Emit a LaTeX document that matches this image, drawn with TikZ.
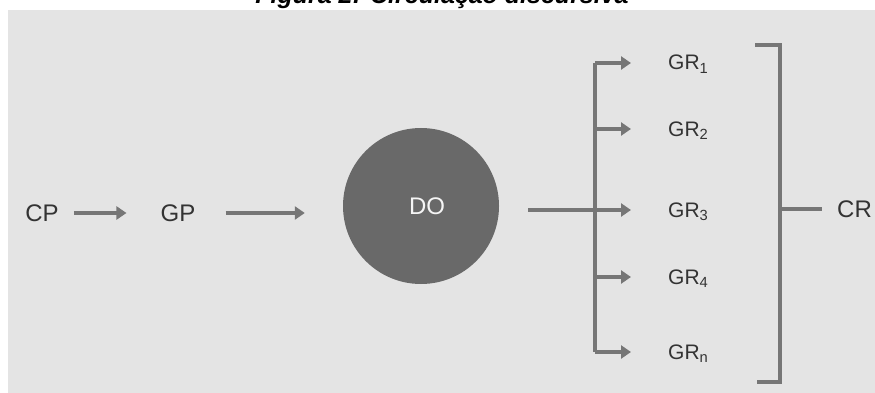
\documentclass[tikz,border=0pt]{standalone}
\usepackage{fontspec}
\setmainfont{Liberation Sans}
\usetikzlibrary{arrows.meta,positioning}
\definecolor{scan}{HTML}{E4E4E4}
\definecolor{ink}{HTML}{767676}
\definecolor{txt}{HTML}{333333}
\definecolor{dogray}{HTML}{696969}
\tikzset{
  lbl/.style={inner sep=0pt, text=txt, font=\fontsize{24}{28}\selectfont},
  grl/.style={inner sep=0pt, text=txt, font=\fontsize{21}{25}\selectfont, anchor=base west},
  wire/.style={draw=ink, line width=3.8pt, line join=miter},
  arr/.style={wire, -{Triangle[length=10pt,width=13pt]}},
}
\begin{document}
\begin{tikzpicture}[x=1pt,y=-1pt]
\useasboundingbox (0,0) rectangle (875,393);
\fill[white] (0,0) rectangle (875,393);
\fill[scan] (8,10) rectangle (875,393);
\node[inner sep=0pt, anchor=base, font=\bfseries\itshape\fontsize{25}{30}\selectfont] (title) at (442,4) {Figura 2: Circulação discursiva};

\node[lbl] (CP) at (42,213) {CP};
\node[lbl] (GP) at (178,213) {GP};
\node[circle, fill=dogray, minimum size=156pt, inner sep=0pt, text=gray!8, font=\fontsize{24}{28}\selectfont] (DO) at (421,206) {\hspace{12pt}DO};

\coordinate (b1) at (595,63);
\coordinate (b2) at (595,129);
\coordinate (b3) at (595,210);
\coordinate (b4) at (595,277);
\coordinate (bn) at (595,352);
\coordinate (t1) at (631,63);
\coordinate (t2) at (631,129);
\coordinate (t3) at (631,210);
\coordinate (t4) at (631,277);
\coordinate (tn) at (631,352);

\node[grl] (GR1) at (668,70) {GR\textsubscript{1}};
\node[grl] (GR2) at (668,136) {GR\textsubscript{2}};
\node[grl] (GR3) at (668,217) {GR\textsubscript{3}};
\node[grl] (GR4) at (668,284) {GR\textsubscript{4}};
\node[grl] (GRn) at (668,359) {GR\textsubscript{n}};

\node[lbl, anchor=west] (CR) at (837,209) {CR};

\draw[arr, shorten <=15pt, shorten >=34pt] (CP) -- (GP);
\draw[arr, shorten <=30pt, shorten >=38pt] (GP.east) -- (GP.east -| DO.west);
\draw[arr, shorten <=29pt] (DO.east |- b3) -- (t3);

\draw[wire, line width=3.2pt] (b1) -- (bn);
\draw[arr] (b1) -- (t1);
\draw[arr] (b2) -- (t2);
\draw[arr] (b4) -- (t4);
\draw[arr] (bn) -- (tn);

\coordinate (k1) at (755,45);
\coordinate (k2) at (780,45);
\coordinate (k3) at (780,382);
\coordinate (k4) at (757,382);
\draw[wire, line width=3.2pt] (k1) -- (k2) -- (k3) -- (k4);
\draw[wire, shorten >=15pt] (k2 |- CR) -- (CR.west);
\end{tikzpicture}
\end{document}
